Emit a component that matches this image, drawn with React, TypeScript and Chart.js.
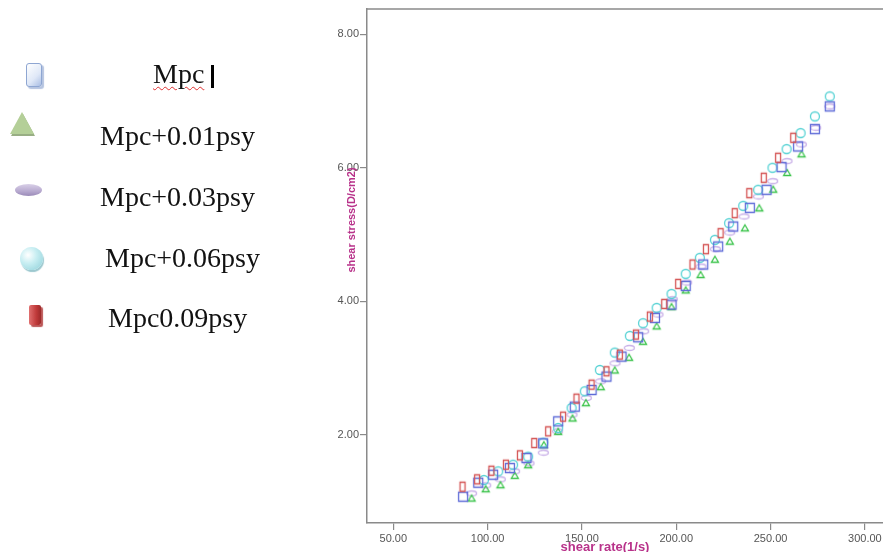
import React, { useEffect, useRef } from "react";
import { Chart, registerables } from "chart.js";

Chart.register(...registerables);

// ---- data ----
const seriesNames = ["Mpc", "Mpc+0.01psy", "Mpc+0.03psy", "Mpc+0.06psy", "Mpc0.09psy"];

const mpcX = [87.0, 95.0, 102.9, 111.8, 120.6, 129.4, 137.4, 146.2, 155.1, 163.0, 171.0, 179.8, 188.7, 197.5, 205.0, 214.3, 222.2, 230.2, 239.0, 247.9, 255.8, 264.6, 273.5, 281.4];
const mpcY = [1.07, 1.28, 1.40, 1.50, 1.65, 1.87, 2.20, 2.42, 2.67, 2.87, 3.17, 3.46, 3.75, 3.95, 4.23, 4.55, 4.82, 5.12, 5.40, 5.67, 6.01, 6.32, 6.58, 6.92];

const psy01X = [91.5, 99.0, 106.8, 114.4, 121.5, 129.8, 137.4, 145.0, 152.1, 160.0, 167.4, 175.0, 182.4, 189.6, 197.5, 205.0, 212.9, 220.5, 228.4, 236.4, 244.0, 251.4, 258.8, 266.4];
const psy01Y = [1.05, 1.19, 1.25, 1.39, 1.55, 1.85, 2.05, 2.25, 2.48, 2.72, 2.97, 3.16, 3.40, 3.63, 3.92, 4.17, 4.40, 4.63, 4.90, 5.10, 5.40, 5.68, 5.93, 6.21];

const psy03X = [91.5, 99.0, 106.7, 114.3, 121.9, 129.5, 137.1, 144.7, 152.3, 159.9, 167.5, 175.1, 182.7, 190.3, 197.9, 205.5, 213.1, 220.7, 228.3, 235.9, 243.5, 251.1, 258.7, 266.3, 273.9, 281.4];
const psy03Y = [1.12, 1.24, 1.33, 1.45, 1.57, 1.73, 2.05, 2.30, 2.55, 2.80, 3.07, 3.30, 3.55, 3.80, 4.03, 4.28, 4.52, 4.78, 5.03, 5.27, 5.57, 5.80, 6.10, 6.35, 6.60, 6.92];

const psy06X = [98.0, 105.6, 113.5, 121.5, 129.5, 137.4, 144.5, 151.5, 159.5, 167.4, 175.4, 182.4, 189.6, 197.5, 205.0, 212.5, 220.5, 228.0, 235.5, 243.4, 251.0, 258.5, 265.9, 273.5, 281.4];
const psy06Y = [1.32, 1.45, 1.55, 1.67, 1.88, 2.10, 2.40, 2.65, 2.97, 3.23, 3.48, 3.67, 3.90, 4.11, 4.41, 4.65, 4.92, 5.17, 5.43, 5.67, 6.00, 6.28, 6.52, 6.77, 7.07];

const psy09X = [86.7, 94.4, 102.0, 109.7, 117.1, 124.7, 132.1, 140.0, 147.1, 155.1, 163.0, 170.1, 178.6, 186.0, 193.6, 201.0, 208.6, 215.7, 223.5, 231.0, 238.7, 246.4, 254.0, 262.0];
const psy09Y = [1.22, 1.33, 1.46, 1.55, 1.69, 1.875, 2.05, 2.27, 2.54, 2.75, 2.95, 3.20, 3.50, 3.77, 3.96, 4.26, 4.55, 4.78, 5.02, 5.32, 5.62, 5.85, 6.15, 6.45];

const xTicks = [50, 100, 150, 200, 250, 300];
const yTicks = [2, 4, 6, 8];
const xTitle = "shear rate(1/s)";
const yTitle = "shear stress(D/cm2)";

// ---- marker images ----
function makeMarker(shape: string, color: string, w: number, h: number) {
  const c = document.createElement("canvas");
  const pad = 2;
  c.width = w + pad * 2;
  c.height = h + pad * 2;
  const ctx = c.getContext("2d")!;
  ctx.strokeStyle = color;
  ctx.lineWidth = 1.3;
  ctx.beginPath();
  if (shape === "rect") {
    ctx.rect(pad + 0.5, pad + 0.5, w - 1, h - 1);
  } else if (shape === "tri") {
    ctx.moveTo(pad + w / 2, pad + 0.5);
    ctx.lineTo(pad + w - 0.5, pad + h - 0.5);
    ctx.lineTo(pad + 0.5, pad + h - 0.5);
    ctx.closePath();
  } else {
    ctx.ellipse(pad + w / 2, pad + h / 2, w / 2 - 0.5, h / 2 - 0.5, 0, 0, Math.PI * 2);
  }
  ctx.stroke();
  return c;
}

function pts(xs: number[], ys: number[]) {
  return xs.map((x, i) => ({ x, y: ys[i] }));
}

const framePlugin = {
  id: "frameAndTitles",
  afterDraw(chart: any) {
    const { ctx, chartArea } = chart;
    ctx.save();
    ctx.strokeStyle = "#8a8a8a";
    ctx.lineWidth = 1.5;
    ctx.beginPath();
    ctx.moveTo(chartArea.left, chartArea.top);
    ctx.lineTo(chartArea.right, chartArea.top);
    ctx.stroke();
    ctx.fillStyle = "#b8328a";
    ctx.textAlign = "center";
    ctx.textBaseline = "middle";
    ctx.font = "bold 13px 'Liberation Sans', Arial, sans-serif";
    ctx.fillText(xTitle, chartArea.left + 238, chartArea.bottom + 24);
    ctx.translate(chartArea.left - 15, chartArea.top + 211);
    ctx.rotate(-Math.PI / 2);
    ctx.font = "bold 11px 'Liberation Sans', Arial, sans-serif";
    ctx.fillText(yTitle, 0, 0);
    ctx.restore();
  },
};

function ChartCanvas() {
  const ref = useRef<HTMLCanvasElement>(null);
  useEffect(() => {
    const blue = makeMarker("rect", "#5f6cd8", 10, 10);
    const green = makeMarker("tri", "#3cc44c", 8, 7);
    const lav = makeMarker("ell", "#c9b0e8", 11, 6);
    const cyan = makeMarker("ell", "#55d2d4", 10, 10);
    const red = makeMarker("rect", "#d45454", 6, 10);
    const chart = new Chart(ref.current!, {
      type: "scatter",
      data: {
        datasets: [
          { label: seriesNames[4], data: pts(psy09X, psy09Y), pointStyle: red as any, pointRadius: 5 },
          { label: seriesNames[0], data: pts(mpcX, mpcY), pointStyle: blue as any, pointRadius: 5 },
          { label: seriesNames[3], data: pts(psy06X, psy06Y), pointStyle: cyan as any, pointRadius: 5 },
          { label: seriesNames[1], data: pts(psy01X, psy01Y), pointStyle: green as any, pointRadius: 5 },
          { label: seriesNames[2], data: pts(psy03X, psy03Y), pointStyle: lav as any, pointRadius: 5 },
        ],
      },
      options: {
        animation: false,
        responsive: false,
        layout: { padding: { left: 300, top: 9, right: 0, bottom: 0 } },
        plugins: { legend: { display: false }, tooltip: { enabled: false } },
        scales: {
          x: {
            type: "linear",
            min: 36.05,
            max: 309.6,
            afterFit: (s: any) => { s.height = 29; s.paddingLeft = 0; s.paddingRight = 0; },
            afterBuildTicks: (s: any) => { s.ticks = xTicks.map((v) => ({ value: v })); },
            grid: { drawOnChartArea: false, drawTicks: true, tickLength: 7, color: "#8a8a8a", lineWidth: 1.2 },
            border: { display: true, color: "#8a8a8a", width: 1.5 },
            ticks: {
              padding: 2,
              color: "#555",
              font: { size: 11, family: "'Liberation Sans', Arial, sans-serif" },
              maxRotation: 0,
              callback: (v: any) => Number(v).toFixed(2),
            },
          },
          y: {
            type: "linear",
            min: 0.676,
            max: 8.38,
            afterFit: (s: any) => { s.width = 67; s.paddingTop = 0; s.paddingBottom = 0; },
            afterBuildTicks: (s: any) => { s.ticks = yTicks.map((v) => ({ value: v })); },
            grid: { drawOnChartArea: false, drawTicks: true, tickLength: 7, color: "#8a8a8a", lineWidth: 1.2 },
            border: { display: true, color: "#8a8a8a", width: 1.5 },
            ticks: {
              padding: 1,
              color: "#555",
              font: { size: 11, family: "'Liberation Sans', Arial, sans-serif" },
              callback: (v: any) => Number(v).toFixed(2),
            },
          },
        },
      },
      plugins: [framePlugin],
    });
    return () => chart.destroy();
  }, []);
  // canvas slightly wider than the page: the plot frame runs off the right edge, as in the reference
  return <canvas ref={ref} width={889} height={552} style={{ position: "absolute", left: 0, top: 0, width: 889, height: 552 }} />;
}

const textStyle: React.CSSProperties = {
  position: "absolute",
  fontFamily: "'Liberation Serif', 'Times New Roman', serif",
  fontSize: 28,
  lineHeight: "28px",
  color: "#111",
  whiteSpace: "nowrap",
};

export default function App() {
  return (
    <div style={{ position: "fixed", left: 0, top: 0, width: 883, height: 552, background: "#fff", overflow: "hidden" }}>
      <ChartCanvas />
      {/* legend icons */}
      <div style={{ position: "absolute", left: 26, top: 63, width: 14, height: 22, borderRadius: 3, border: "1px solid #8ea6d2", background: "linear-gradient(135deg,#ffffff 0%,#dfe8f7 60%,#a9bde3 100%)", boxShadow: "2px 2px 1px #b5c4e0" }} />
      <div style={{ position: "absolute", left: 10, top: 112, width: 0, height: 0, borderLeft: "12px solid transparent", borderRight: "12px solid transparent", borderBottom: "22px solid #b4cf98", filter: "drop-shadow(1px 2px 0 #98ae84)" }} />
      <div style={{ position: "absolute", left: 15, top: 184, width: 27, height: 12, borderRadius: "50%", background: "linear-gradient(180deg,#d9d0e8 0%,#b7a9cf 60%,#9a8ab8 100%)" }} />
      <div style={{ position: "absolute", left: 20, top: 247, width: 23, height: 23, borderRadius: "50%", background: "radial-gradient(circle at 35% 35%,#ffffff 0%,#c8eef2 40%,#8ccfd8 100%)", boxShadow: "1px 2px 1px #9cc8cf" }} />
      <div style={{ position: "absolute", left: 29, top: 305, width: 12, height: 20, borderRadius: 2, background: "linear-gradient(90deg,#e07070 0%,#c03a3a 60%,#9c2a2a 100%)", boxShadow: "2px 2px 1px #b55" }} />
      {/* legend texts */}
      <div style={{ ...textStyle, left: 153, top: 60, textDecoration: "underline wavy #e03030", textDecorationThickness: 1, textUnderlineOffset: 3 }}>{seriesNames[0]}</div>
      <div style={{ position: "absolute", left: 211, top: 65, width: 3, height: 23, background: "#000" }} />
      <div style={{ ...textStyle, left: 100, top: 122 }}>{seriesNames[1]}</div>
      <div style={{ ...textStyle, left: 100, top: 183 }}>{seriesNames[2]}</div>
      <div style={{ ...textStyle, left: 105, top: 244 }}>{seriesNames[3]}</div>
      <div style={{ ...textStyle, left: 108, top: 304 }}>{seriesNames[4]}</div>
    </div>
  );
}
